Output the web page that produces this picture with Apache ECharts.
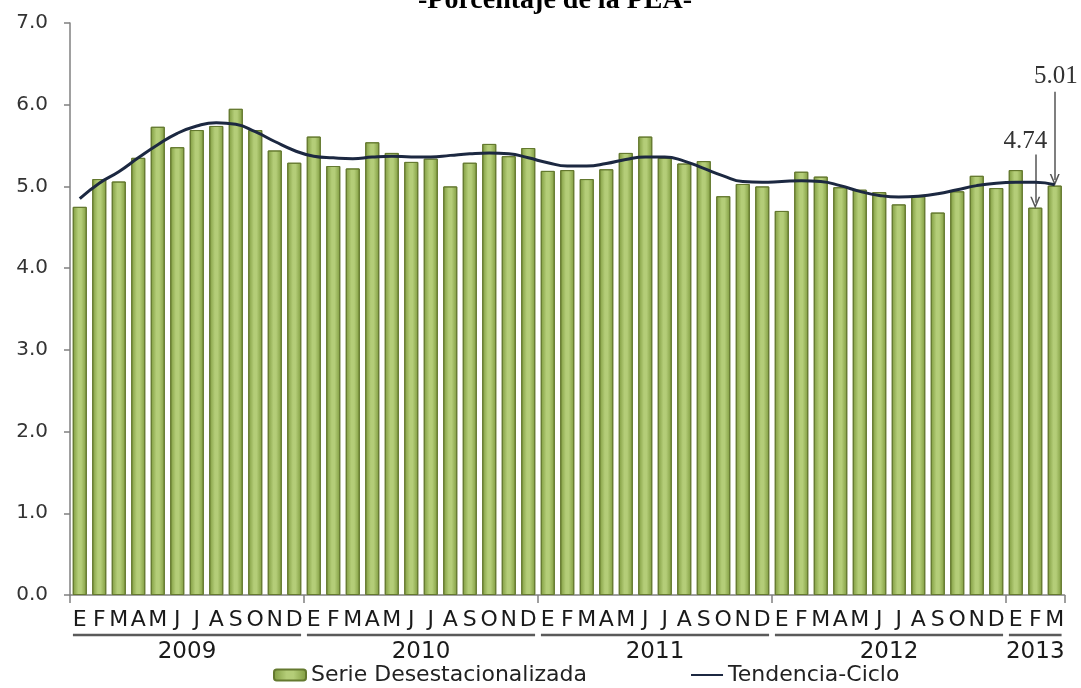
<!DOCTYPE html>
<html>
<head>
<meta charset="utf-8">
<script src="https://cdn.jsdelivr.net/npm/echarts@6/dist/echarts.min.js"></script>
<style>
  html,body{margin:0;padding:0;background:#fff;}
  #chart{width:1081px;height:688px;}
</style>
</head>
<body>
<div id="chart"></div>
<script>
// meses (E=enero ... D=diciembre), 2009-01 .. 2013-03
var monthLetters=['E','F','M','A','M','J','J','A','S','O','N','D'];
var years=['2009','2010','2011','2012','2013'];
var yearMonths=[12,12,12,12,3];

// serie desestacionalizada (% de la PEA)
var serie2009=[4.75,5.09,5.06,5.35,5.73,5.48,5.69,5.74,5.95,5.69,5.44,5.29];
var serie2010=[5.61,5.25,5.22,5.54,5.41,5.30,5.34,5.00,5.29,5.52,5.37,5.47];
var serie2011=[5.19,5.20,5.09,5.21,5.41,5.61,5.35,5.28,5.31,4.88,5.03,5.00];
var serie2012=[4.70,5.18,5.12,4.99,4.96,4.93,4.78,4.88,4.68,4.94,5.13,4.98];
var serie2013=[5.20,4.74,5.01];

// tendencia-ciclo
var tendencia=[4.85,5.04,5.18,5.35,5.51,5.65,5.74,5.78,5.76,5.67,5.55,5.44,
               5.37,5.35,5.34,5.36,5.37,5.36,5.36,5.38,5.40,5.41,5.40,5.35,
               5.29,5.25,5.25,5.28,5.33,5.36,5.36,5.31,5.22,5.13,5.06,5.05,
               5.06,5.07,5.06,5.01,4.94,4.89,4.87,4.88,4.91,4.96,5.01,5.04,
               5.05,5.05,5.02];

var yTicks=[0,1,2,3,4,5,6,7];

var serie=serie2009.concat(serie2010,serie2011,serie2012,serie2013);
var categories=[];
yearMonths.forEach(function(n){
    for(var i=0;i<n;i++) categories.push(monthLetters[i]);
});

// posicion media de cada año sobre el eje (en meses)
var yearMid={};
var acc=0;
yearMonths.forEach(function(n,k){
    yearMid[acc+n/2]=years[k];
    acc+=n;
});

var lastIdx=serie.length-1;
var font='DejaVu Sans';
var arrowPath='path://M0,10L5,0L10,10L8.4,10L5,3.2L1.6,10Z';

var myChart=echarts.init(document.getElementById('chart'));

var option={
    animation:false,
    title:{
        text:'-Porcentaje de la PEA-',
        left:418,
        top:-13,
        padding:0,
        textStyle:{
            fontFamily:'Liberation Serif',
            fontWeight:'bold',
            fontSize:28,
            color:'#000',
        },
    },
    grid:{
        left:70,
        right:16.5,
        top:23,
        bottom:93,
    },
    legend:{
        left:268,
        bottom:-3,
        itemWidth:32,
        itemHeight:11,
        itemGap:103,
        textStyle:{
            fontFamily:font,
            fontSize:22,
            color:'#222',
        },
        data:[
            {name:'Serie Desestacionalizada'},
            {name:'Tendencia-Ciclo',itemStyle:{opacity:0}},
        ],
    },
    xAxis:[
        {
            type:'category',
            data:categories,
            boundaryGap:true,
            axisLine:{
                lineStyle:{color:'#808080',width:1.5},
            },
            axisTick:{
                show:true,
                length:8,
                interval:function(index){
                    return index%12===0;
                },
                lineStyle:{color:'#808080',width:1.5},
            },
            axisLabel:{
                interval:0,
                margin:14,
                fontFamily:font,
                fontSize:22,
                color:'#1a1a1a',
            },
        },
        {
            type:'value',
            position:'bottom',
            min:0,
            max:categories.length,
            interval:0.5,
            axisLine:{show:false},
            axisTick:{show:false},
            splitLine:{show:false},
            axisLabel:{
                margin:46,
                fontFamily:font,
                fontSize:23,
                color:'#1a1a1a',
                formatter:function(v){
                    return yearMid[v]||'';
                },
            },
        },
    ],
    yAxis:{
        type:'value',
        min:yTicks[0],
        max:yTicks[yTicks.length-1],
        interval:1,
        axisLine:{
            show:true,
            lineStyle:{color:'#808080',width:1.5},
        },
        axisTick:{
            show:true,
            length:6,
            lineStyle:{color:'#808080',width:1.5},
        },
        splitLine:{show:false},
        axisLabel:{
            margin:22,
            fontFamily:font,
            fontSize:20,
            color:'#333',
            formatter:function(v){
                return v.toFixed(1);
            },
        },
    },
    series:[
        {
            name:'Serie Desestacionalizada',
            type:'bar',
            barWidth:14,
            data:serie,
            itemStyle:{
                color:new echarts.graphic.LinearGradient(0,0,1,0,[
                    {offset:0,color:'#7f9b3f'},
                    {offset:0.4,color:'#b4cd78'},
                    {offset:0.6,color:'#b4cd78'},
                    {offset:1,color:'#7f9b3f'},
                ]),
                borderColor:'#64792f',
                borderWidth:1,
            },
        },
        {
            name:'Tendencia-Ciclo',
            type:'line',
            smooth:true,
            symbol:'none',
            data:tendencia,
            z:5,
            lineStyle:{color:'#1c2841',width:3},
            itemStyle:{color:'#1c2841'},
            markLine:{
                silent:true,
                animation:false,
                symbol:['none',arrowPath],
                symbolSize:[10,12],
                label:{show:false},
                lineStyle:{color:'#555',width:1.5,type:'solid'},
                data:[
                    [{coord:[lastIdx-1,5.39]},{coord:[lastIdx-1,4.80]}],
                    [{coord:[lastIdx,6.16]},{coord:[lastIdx,5.08]}],
                ],
            },
            markPoint:{
                silent:true,
                symbol:'rect',
                symbolSize:1,
                itemStyle:{color:'rgba(0,0,0,0)'},
                label:{
                    show:true,
                    position:'inside',
                    formatter:'{c}',
                    fontFamily:'Liberation Serif',
                    fontSize:25,
                    color:'#333',
                },
                data:[
                    {coord:[lastIdx-1,5.55],value:serie[lastIdx-1].toFixed(2),label:{offset:[-10,0]}},
                    {coord:[lastIdx,6.34],value:serie[lastIdx].toFixed(2),label:{offset:[1,0]}},
                ],
            },
        },
    ],
};

myChart.setOption(option);

// subrayado bajo los meses de cada año
var lines=[];
var start=0;
yearMonths.forEach(function(n){
    var x1=myChart.convertToPixel({xAxisIndex:1},start+0.15);
    var x2=myChart.convertToPixel({xAxisIndex:1},start+n-0.15);
    lines.push({
        type:'line',
        shape:{x1:x1,y1:635,x2:x2,y2:635},
        style:{stroke:'#5a5a5a',lineWidth:2.5},
        silent:true,
    });
    start+=n;
});
myChart.setOption({graphic:lines});
</script>
</body>
</html>
